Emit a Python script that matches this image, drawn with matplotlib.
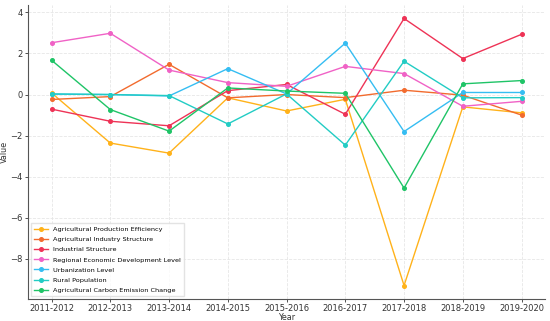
import matplotlib
matplotlib.use("Agg")
import matplotlib.pyplot as plt

years = ["2011-2012", "2012-2013", "2013-2014", "2014-2015", "2015-2016",
         "2016-2017", "2017-2018", "2018-2019", "2019-2020"]

prod_eff = [0.08, -2.36, -2.85, -0.16, -0.80, -0.23, -9.29, -0.60, -0.89]
ind_struct_agri = [-0.24, -0.10, 1.47, -0.16, 0.00, -0.15, 0.21, -0.03, -1.00]
industrial = [-0.71, -1.30, -1.52, 0.19, 0.49, -0.96, 3.70, 1.75, 2.93]
regional = [2.52, 2.98, 1.19, 0.58, 0.40, 1.37, 1.02, -0.57, -0.33]
urban = [0.02, 0.00, -0.07, 1.26, 0.03, 2.50, -1.80, 0.10, 0.10]
rural = [0.03, 0.00, -0.05, -1.43, 0.03, -2.46, 1.62, -0.16, -0.15]
carbon = [1.67, -0.73, -1.78, 0.32, 0.17, 0.06, -4.55, 0.52, 0.68]

labels = ["Agricultural Production Efficiency", "Agricultural Industry Structure",
          "Industrial Structure", "Regional Economic Development Level",
          "Urbanization Level", "Rural Population", "Agricultural Carbon Emission Change"]
colors = ["#FFB21A", "#F26B2E", "#EE3356", "#F062C6", "#35BDF2", "#22CCC4", "#1FC467"]
series = [prod_eff, ind_struct_agri, industrial, regional, urban, rural, carbon]

fig = plt.figure(figsize=(5.5, 3.21), dpi=100)
ax = fig.add_axes([0.051, 0.069, 0.94, 0.915])
x = list(range(len(years)))
for s, lab, c in zip(series, labels, colors):
    ax.plot(x, s, marker="o", markersize=2.6, linewidth=1.0, color=c, label=lab)

ax.set_xticks(x)
ax.set_xticklabels(years, fontsize=6)
ax.tick_params(axis="y", labelsize=6, length=2, width=0.6, pad=2, colors="#333333")
ax.tick_params(axis="x", length=2, width=0.6, pad=1.5, colors="#333333")
ax.set_yticks([-8, -6, -4, -2, 0, 2, 4])
ax.set_xlabel("Year", fontsize=5.8, labelpad=0, color="#333333")
ax.set_ylabel("Value", fontsize=5.8, labelpad=1, color="#333333")
ax.grid(True, color="#e6e6e6", linewidth=0.6, linestyle="--")
ax.set_axisbelow(True)
for sp in ["top", "right"]:
    ax.spines[sp].set_visible(False)
for sp in ["left", "bottom"]:
    ax.spines[sp].set_color("#555555")
    ax.spines[sp].set_linewidth(0.8)
ax.legend(loc="lower left", fontsize=4.65, frameon=True, framealpha=0.8,
          edgecolor="#dddddd", handlelength=2.2, borderpad=0.5, labelspacing=0.72,
          fancybox=False, borderaxespad=0.4)
fig.savefig("out.png", dpi=100)
